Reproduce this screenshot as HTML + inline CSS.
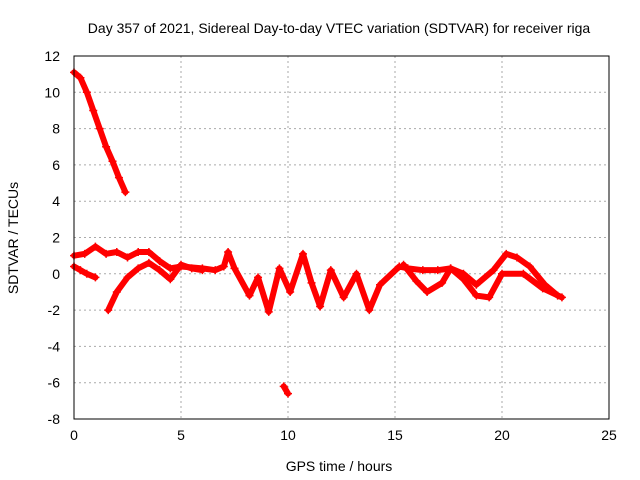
<!DOCTYPE html>
<html><head><meta charset="utf-8"><style>
body{margin:0;background:#fff}
svg{display:block;font-family:"Liberation Sans",sans-serif}
</style></head><body>
<svg id="chart" width="640" height="480">
<text x="339" y="33" text-anchor="middle" font-size="14">Day 357 of 2021, Sidereal Day-to-day VTEC variation (SDTVAR) for receiver riga</text>
<text x="339" y="471" text-anchor="middle" font-size="14">GPS time / hours</text>
<text transform="translate(18,238) rotate(-90)" text-anchor="middle" font-size="14">SDTVAR / TECUs</text>
<g id="grid"></g><g id="ticks"></g><g id="marks"></g>
<rect x="74" y="56" width="535" height="363" fill="none" stroke="#000"/>
</svg>
<script>
const xTicks=[0,5,10,15,20,25];
const yTicks=[-8,-6,-4,-2,0,2,4,6,8,10,12];
const trackSteep=[[0,11.1],[0.3,10.8],[0.6,10],[0.9,9],[1.2,8],[1.5,7],[1.8,6.2],[2.1,5.3],[2.4,4.5]];
const trackShort=[[0,0.4],[0.3,0.2],[0.6,0],[1,-0.2]];
const trackMain=[[0,1],[0.5,1.1],[1,1.5],[1.5,1.1],[2,1.2],[2.5,0.9],[3,1.2],[3.5,1.2],[4,0.7],[4.5,0.3],[5,0.4],[6,0.3],[6.6,0.2],[7,0.4],[7.2,1.2],[7.5,0.3],[8.2,-1.2],[8.6,-0.2],[9.1,-2.1],[9.6,0.3],[10.1,-1],[10.7,1.1],[11.1,-0.5],[11.5,-1.8],[12,0.2],[12.6,-1.3],[13.2,0],[13.8,-2],[14.3,-0.6],[15.2,0.4],[15.6,0.3],[16.3,0.2],[17,0.2],[17.6,0.3],[18.2,-0.3],[18.8,-1.2],[19.4,-1.3],[20,0],[21,0],[21.9,-0.8],[22.8,-1.3]];
const trackRise=[[1.6,-2],[2,-1],[2.5,-0.2],[3,0.3],[3.5,0.6],[4,0.2],[4.5,-0.3],[5,0.5],[5.5,0.3],[6,0.2]];
const trackLate=[[15.4,0.5],[16,-0.4],[16.5,-1],[17.2,-0.5],[17.6,0.3],[18.2,0],[18.8,-0.6],[19.6,0.2],[20.2,1.1],[20.7,0.9],[21.3,0.4],[22,-0.6],[22.6,-1.2]];
const trackOutlier=[[9.8,-6.2],[10,-6.6]];
const tracks=[trackSteep,trackShort,trackMain,trackRise,trackLate,trackOutlier];
const NS="http://www.w3.org/2000/svg";
const X=v=>74+v*(535/25), Y=v=>56+(12-v)*(363/20);
const grid=document.getElementById('grid'),ticks=document.getElementById('ticks'),marks=document.getElementById('marks');
function mk(t,a,p){const e=document.createElementNS(NS,t);for(const k in a)e.setAttribute(k,a[k]);p.appendChild(e);return e;}
xTicks.forEach(v=>{
 if(v>0&&v<25){const g=mk('line',{x1:X(v),x2:X(v),y1:56,y2:419,stroke:'#aaa','stroke-dasharray':'2,3'},grid);
 
 }
 const t=mk('text',{x:X(v),y:440,'text-anchor':'middle','font-size':14},ticks);t.textContent=v;
 
 
});
yTicks.forEach(v=>{
 if(v>-8&&v<12){const g=mk('line',{x1:74,x2:609,y1:Y(v),y2:Y(v),stroke:'#aaa','stroke-dasharray':'2,3'},grid);
 
 }
 const t=mk('text',{x:60,y:Y(v)+5,'text-anchor':'end','font-size':14},ticks);t.textContent=v;
 
 
});
tracks.forEach(tr=>{
 const pl=mk('polyline',{points:tr.map(p=>X(p[0])+','+Y(p[1])).join(' '),fill:'none',stroke:'#f00','stroke-width':6,'stroke-linejoin':'round','stroke-linecap':'round'},marks);
 
 
 tr.forEach(p=>{const x=X(p[0]),y=Y(p[1]);
  const m=mk('path',{d:`M${x-4},${y}H${x+4}M${x},${y-4}V${y+4}`,stroke:'#f00','stroke-width':1.5},marks);
  
  
 });
});
</script>
</body></html>
